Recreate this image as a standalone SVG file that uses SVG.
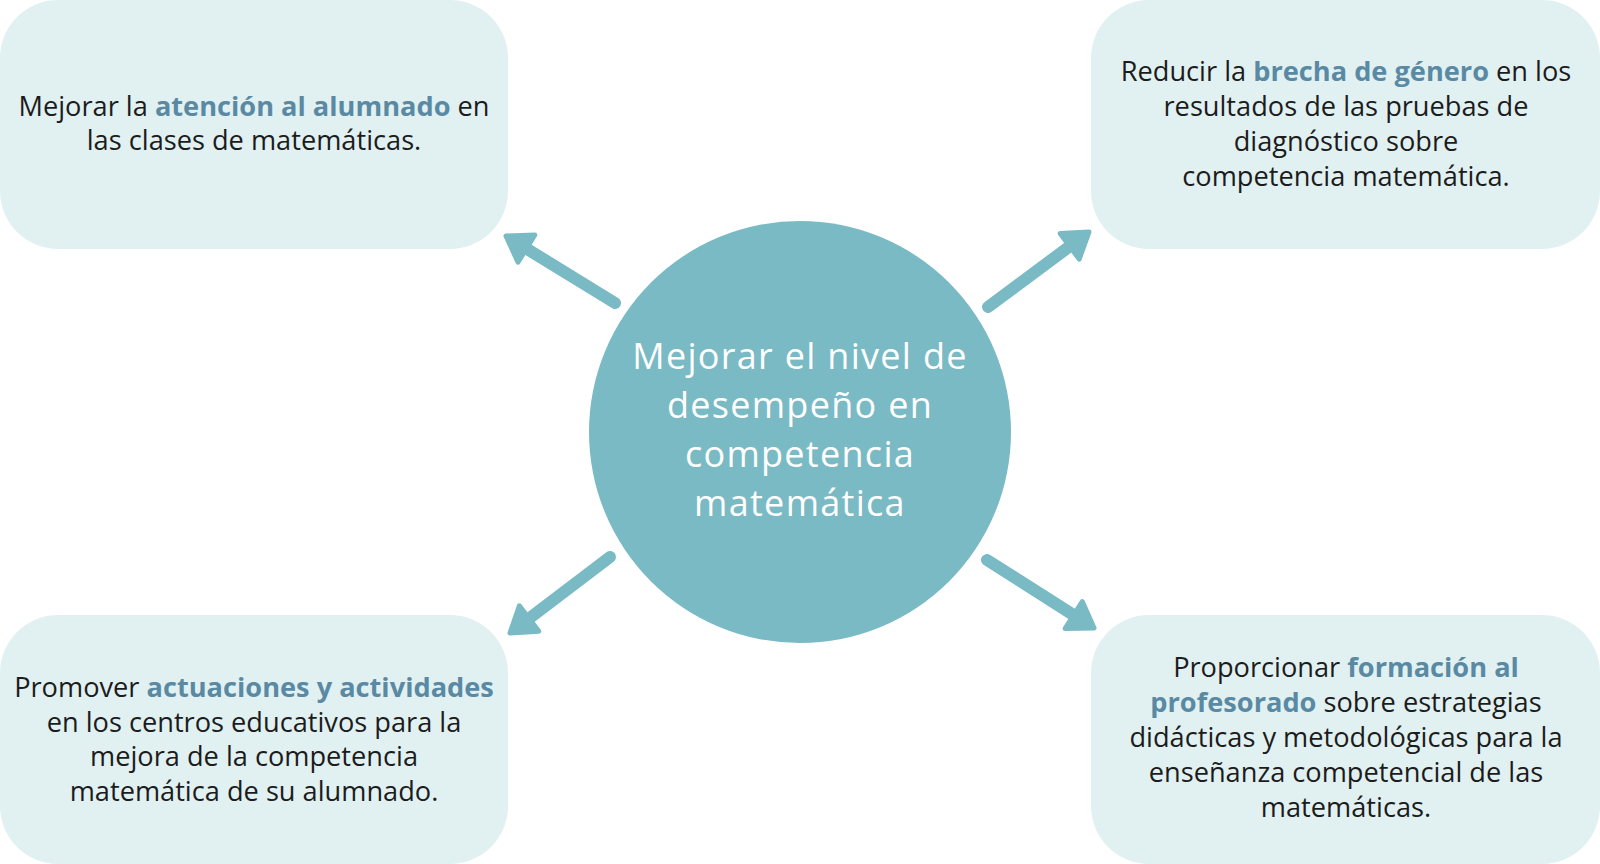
<svg xmlns="http://www.w3.org/2000/svg" width="1600" height="864" viewBox="0 0 1600 864">
<style>
.box{fill:#e1f1f2;}
.t{font-family:"Open Sans","Liberation Sans",sans-serif;font-size:27.2px;fill:#1c1c1c;text-anchor:middle;}
.b{font-weight:700;fill:#5a8aa3;}
.c{font-family:"Open Sans","Liberation Sans",sans-serif;font-size:36px;letter-spacing:1.3px;fill:#ffffff;text-anchor:middle;}
.shaft{stroke:#79bac4;stroke-width:12;stroke-linecap:round;fill:none;}
.head{fill:#79bac4;stroke:#79bac4;stroke-width:5;stroke-linejoin:round;}
</style>
<rect width="1600" height="864" fill="#ffffff"/>
<g id="node-atencion">
<rect class="box" x="0" y="0" width="508" height="249" rx="58"/>
<text class="t" x="254" y="116">Mejorar la <tspan class="b">atención al alumnado</tspan> en</text>
<text class="t" x="254" y="150">las clases de matemáticas.</text>
</g>
<g id="node-brecha">
<rect class="box" x="1091" y="0" width="509" height="249" rx="58"/>
<text class="t" x="1346" y="81">Reducir la <tspan class="b">brecha de género</tspan> en los</text>
<text class="t" x="1346" y="116">resultados de las pruebas de</text>
<text class="t" x="1346" y="151">diagnóstico sobre</text>
<text class="t" x="1346" y="186">competencia matemática.</text>
</g>
<g id="node-actuaciones">
<rect class="box" x="0" y="615" width="508" height="249" rx="58"/>
<text class="t" x="254" y="697">Promover <tspan class="b">actuaciones y actividades</tspan></text>
<text class="t" x="254" y="732">en los centros educativos para la</text>
<text class="t" x="254" y="766">mejora de la competencia</text>
<text class="t" x="254" y="801">matemática de su alumnado.</text>
</g>
<g id="node-formacion">
<rect class="box" x="1091" y="615" width="509" height="249" rx="58"/>
<text class="t" x="1346" y="677">Proporcionar <tspan class="b">formación al</tspan></text>
<text class="t" x="1346" y="712"><tspan class="b">profesorado</tspan> sobre estrategias</text>
<text class="t" x="1346" y="747">didácticas y metodológicas para la</text>
<text class="t" x="1346" y="782">enseñanza competencial de las</text>
<text class="t" x="1346" y="817">matemáticas.</text>
</g>
<g id="node-center">
<circle cx="800" cy="432" r="211" fill="#79bac4"/>
<text class="c" x="800" y="369">Mejorar el nivel de</text>
<text class="c" x="800" y="418">desempeño en</text>
<text class="c" x="800" y="467">competencia</text>
<text class="c" x="800" y="516">matemática</text>
</g>
<g id="connectors">
<line class="shaft" x1="615" y1="303" x2="526.4" y2="248.6"/>
<polygon class="head" points="506,236 534.8,235 518,262.2"/>
<line class="shaft" x1="988" y1="307" x2="1069.7" y2="246.3"/>
<polygon class="head" points="1089,232 1079.2,259.1 1060.2,233.5"/>
<line class="shaft" x1="610" y1="557" x2="529.1" y2="618.5"/>
<polygon class="head" points="510,633 538.8,631.2 519.4,605.8"/>
<line class="shaft" x1="987" y1="560" x2="1073.7" y2="615.1"/>
<polygon class="head" points="1094,628 1065.1,628.6 1082.3,601.6"/>
</g>
</svg>
